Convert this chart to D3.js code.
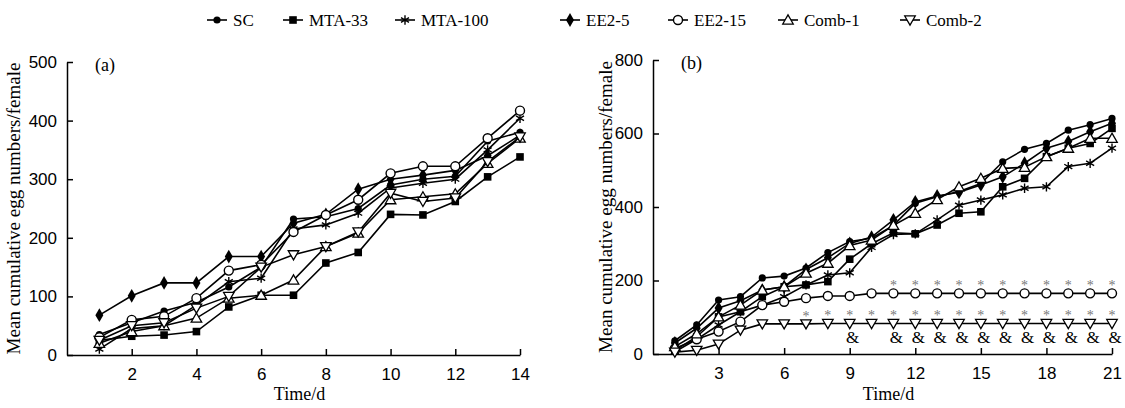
<!DOCTYPE html>
<html>
<head>
<meta charset="utf-8">
<script src="https://cdn.jsdelivr.net/npm/d3@7"></script>
<style>
  body { margin: 0; background: #fff; }
  svg { display: block; font-family: "Liberation Serif", "Times New Roman", serif; }
  .domain, .tick line { stroke: #000; stroke-width: 1.5; }
  .tick text { font-size: 17px; fill: #000; }
</style>
</head>
<body>
<div id="chart"></div>
<script>
// series names and legend symbols
const seriesNames = ['SC', 'MTA-33', 'MTA-100', 'EE2-5', 'EE2-15', 'Comb-1', 'Comb-2'];
const seriesSymbols = ['circle', 'square', 'star', 'diamond', 'ocircle', 'triangle', 'itriangle'];

// panel (a): days 1-14
const daysA = [1, 2, 3, 4, 5, 6, 7, 8, 9, 10, 11, 12, 13, 14];
const scA     = [35, 55, 75, 90, 116, 150, 232, 236, 250, 290, 300, 305, 365, 380];
const mta33A  = [25, 32, 34, 40, 82, 102, 102, 157, 175, 240, 239, 262, 304, 338];
const mta100A = [10, 45, 50, 85, 125, 131, 215, 222, 242, 285, 293, 300, 350, 404];
const ee25A   = [68, 101, 123, 123, 168, 168, 225, 240, 283, 300, 307, 315, 340, 375];
const ee215A  = [30, 60, 66, 97, 144, 154, 210, 239, 265, 310, 322, 322, 370, 417];
const comb1A  = [20, 40, 50, 63, 97, 102, 128, 185, 208, 265, 270, 275, 327, 370];
const comb2A  = [25, 50, 55, 80, 100, 150, 171, 185, 210, 276, 262, 268, 330, 372];

// panel (b): days 1-21
const daysB = [1, 2, 3, 4, 5, 6, 7, 8, 9, 10, 11, 12, 13, 14, 15, 16, 17, 18, 19, 20, 21];
const scB     = [36, 79, 147, 156, 207, 212, 234, 276, 306, 315, 350, 410, 428, 442, 464, 523, 557, 573, 609, 624, 641];
const mta33B  = [10, 47, 101, 115, 156, 183, 188, 197, 258, 300, 330, 327, 351, 383, 387, 455, 478, 537, 560, 573, 614];
const mta100B = [6, 40, 79, 115, 133, 156, 188, 215, 221, 290, 325, 327, 365, 405, 419, 433, 451, 455, 510, 519, 560];
const ee25B   = [30, 70, 125, 145, 174, 183, 230, 262, 301, 318, 365, 414, 430, 440, 460, 482, 519, 560, 578, 605, 628];
const ee215B  = [15, 40, 61, 88, 133, 142, 152, 158, 158, 165, 165, 165, 165, 165, 165, 165, 165, 165, 165, 165, 165];
const comb1B  = [20, 55, 101, 133, 174, 183, 220, 247, 295, 310, 350, 383, 420, 455, 478, 505, 508, 537, 560, 587, 587];
const comb2B  = [5, 10, 27, 65, 82, 82, 82, 83, 83, 83, 83, 83, 83, 83, 83, 83, 83, 83, 83, 83, 83];

// significance marks in (b)
const starDaysEE215 = [11, 12, 13, 14, 15, 16, 17, 18, 19, 20, 21];
const starDaysComb2 = [7, 8, 9, 10, 11, 12, 13, 14, 15, 16, 17, 18, 19, 20, 21];
const ampDaysComb2  = [9, 11, 12, 13, 14, 15, 16, 17, 18, 19, 20, 21];

const ticksA = [2, 4, 6, 8, 10, 12, 14];
const ticksB = [3, 6, 9, 12, 15, 18, 21];
const yTicksA = [0, 100, 200, 300, 400, 500];
const yTicksB = [0, 200, 400, 600, 800];

const width = 1125, height = 408;
const svg = d3.select('#chart').append('svg')
    .attr('width', width)
    .attr('height', height);

function drawMarker(g, type, x, y) {
    if (type === 'circle') {
        g.append('circle').attr('cx', x).attr('cy', y).attr('r', 3.6).attr('fill', '#000');
    } else if (type === 'ocircle') {
        g.append('circle').attr('cx', x).attr('cy', y).attr('r', 4.5)
            .attr('fill', '#fff').attr('stroke', '#000').attr('stroke-width', 1.4);
    } else if (type === 'square') {
        g.append('rect').attr('x', x - 3.8).attr('y', y - 3.8).attr('width', 7.6).attr('height', 7.6).attr('fill', '#000');
    } else if (type === 'diamond') {
        g.append('path').attr('d', d3.symbol(d3.symbolDiamond, 55)())
            .attr('transform', `translate(${x},${y})`).attr('fill', '#000');
    } else if (type === 'star') {
        g.append('path').attr('d', d3.symbol(d3.symbolAsterisk, 60)())
            .attr('transform', `translate(${x},${y})`).attr('fill', 'none')
            .attr('stroke', '#000').attr('stroke-width', 1.4);
    } else if (type === 'triangle') {
        g.append('path').attr('d', d3.symbol(d3.symbolTriangle, 48)())
            .attr('transform', `translate(${x},${y + 1})`).attr('fill', '#fff')
            .attr('stroke', '#000').attr('stroke-width', 1.3);
    } else if (type === 'itriangle') {
        g.append('path').attr('d', d3.symbol(d3.symbolTriangle, 48)())
            .attr('transform', `translate(${x},${y - 1}) rotate(180)`).attr('fill', '#fff')
            .attr('stroke', '#000').attr('stroke-width', 1.3);
    }
}

function drawPanel(opts) {
    const x = d3.scaleLinear().domain(opts.xDomain).range(opts.xRange);
    const y = d3.scaleLinear().domain(opts.yDomain).range(opts.yRange);
    const g = svg.append('g');

    // axes, ticks pointing inward
    g.append('g')
        .attr('transform', `translate(0,${opts.yRange[0]})`)
        .call(d3.axisBottom(x).tickValues(opts.xTicks).tickSizeInner(-6).tickSizeOuter(0).tickPadding(13))
        .call(a => a.selectAll('.tick text').attr('dy', '0.71em'));
    g.append('g')
        .attr('transform', `translate(${opts.xRange[0]},0)`)
        .call(d3.axisLeft(y).tickValues(opts.yTicks).tickSizeInner(-6).tickSizeOuter(0).tickPadding(10));

    // axis titles
    g.append('text')
        .attr('x', (opts.xRange[0] + opts.xRange[1]) / 2 + 6)
        .attr('y', 400)
        .attr('text-anchor', 'middle')
        .attr('font-size', 18)
        .text('Time/d');
    g.append('text')
        .attr('transform', `translate(${opts.yLabelX},${(opts.yRange[0] + opts.yRange[1]) / 2}) rotate(-90)`)
        .attr('text-anchor', 'middle')
        .attr('font-size', 19)
        .text('Mean cumulative egg numbers/female');
    g.append('text')
        .attr('x', opts.xRange[0] + 28)
        .attr('y', opts.yRange[1] + 9)
        .attr('font-size', 18)
        .text(opts.label);

    const line = d3.line().x(d => x(d[0])).y(d => y(d[1]));
    opts.series.forEach((vals, i) => {
        const pts = opts.days.map((d, j) => [d, vals[j]]);
        g.append('path')
            .datum(pts)
            .attr('d', line)
            .attr('fill', 'none')
            .attr('stroke', '#000')
            .attr('stroke-width', 1.6);
        const mg = g.append('g');
        pts.forEach(p => drawMarker(mg, seriesSymbols[i], x(p[0]), y(p[1])));
    });

    return { x, y, g };
}

drawPanel({
    xDomain: [0, 14], xRange: [67, 520],
    yDomain: [0, 500], yRange: [355, 62],
    xTicks: ticksA, yTicks: yTicksA,
    yLabelX: 20, label: '(a)',
    days: daysA,
    series: [scA, mta33A, mta100A, ee25A, ee215A, comb1A, comb2A]
});

const pb = drawPanel({
    xDomain: [0, 21], xRange: [653, 1112],
    yDomain: [0, 800], yRange: [354, 60],
    xTicks: ticksB, yTicks: yTicksB,
    yLabelX: 612, label: '(b)',
    days: daysB,
    series: [scB, mta33B, mta100B, ee25B, ee215B, comb1B, comb2B]
});

// significance marks
starDaysEE215.forEach(d => {
    pb.g.append('text').attr('x', pb.x(d)).attr('y', pb.y(ee215B[daysB.indexOf(d)]) - 3)
        .attr('text-anchor', 'middle').attr('font-size', 14).attr('fill', '#777').text('*');
});
starDaysComb2.forEach(d => {
    pb.g.append('text').attr('x', pb.x(d)).attr('y', pb.y(comb2B[daysB.indexOf(d)]) - 3)
        .attr('text-anchor', 'middle').attr('font-size', 14).attr('fill', '#777').text('*');
});
ampDaysComb2.forEach(d => {
    pb.g.append('text').attr('x', pb.x(d) + 3).attr('y', pb.y(comb2B[daysB.indexOf(d)]) + 20)
        .attr('text-anchor', 'middle').attr('font-size', 17).attr('fill', '#000').text('&');
});

// legend
const legendX = [207, 283, 395, 560, 668, 778, 900];
const legend = svg.append('g');
seriesNames.forEach((name, i) => {
    const lx = legendX[i];
    legend.append('line').attr('x1', lx).attr('x2', lx + 20).attr('y1', 20).attr('y2', 20)
        .attr('stroke', '#000').attr('stroke-width', 1.6);
    drawMarker(legend, seriesSymbols[i], lx + 10, 20);
    legend.append('text').attr('x', lx + 26).attr('y', 26).attr('font-size', 17).text(name);
});
</script>
</body>
</html>
